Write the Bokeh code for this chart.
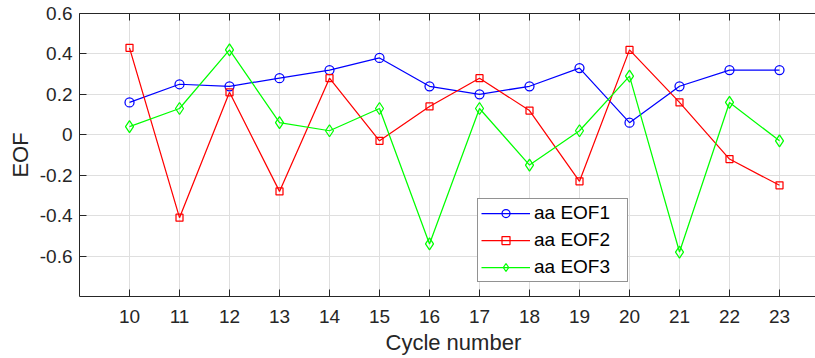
from bokeh.plotting import figure
from bokeh.models import (FixedTicker, LinearAxis, Legend, LegendItem, Title,
                          CustomJSTickFormatter, Range1d)
from bokeh.embed import file_html
from bokeh.resources import INLINE

# ---- data ----
cycles = [10, 11, 12, 13, 14, 15, 16, 17, 18, 19, 20, 21, 22, 23]
eof1 = [0.16, 0.25, 0.24, 0.28, 0.32, 0.38, 0.24, 0.20, 0.24, 0.33, 0.06, 0.24, 0.32, 0.32]
eof2 = [0.43, -0.41, 0.21, -0.28, 0.28, -0.03, 0.14, 0.28, 0.12, -0.23, 0.42, 0.16, -0.12, -0.25]
eof3 = [0.04, 0.13, 0.42, 0.06, 0.02, 0.13, -0.54, 0.13, -0.15, 0.02, 0.29, -0.58, 0.16, -0.03]
series_names = ["aa EOF1", "aa EOF2", "aa EOF3"]
y_ticks = [-0.6, -0.4, -0.2, 0.0, 0.2, 0.4, 0.6]
x_label = "Cycle number"
y_label = "EOF"

FONT = "Liberation Sans"
AX = "#262626"
GRID = "#dfdfdf"

p = figure(width=815, height=358, output_backend="svg", toolbar_location=None,
           x_range=Range1d(9, 23.72), y_range=Range1d(-0.8, 0.6),
           min_border_left=79, min_border_right=0, min_border_top=13,
           min_border_bottom=62)
p.outline_line_color = None
p.background_fill_color = "white"
p.border_fill_color = "white"

xt = FixedTicker(ticks=cycles)
yt = FixedTicker(ticks=y_ticks)

# bottom axis
xa = p.xaxis[0]
xa.ticker = xt
xa.major_tick_in = 7
xa.major_tick_out = 0
xa.minor_tick_line_color = None
xa.axis_line_color = AX
xa.major_tick_line_color = AX
xa.major_label_text_font = FONT
xa.major_label_text_font_size = "19px"
xa.major_label_text_color = AX
xa.major_label_standoff = 13

# left axis
ya = p.yaxis[0]
ya.ticker = yt
ya.formatter = CustomJSTickFormatter(code="return Math.abs(tick) < 1e-9 ? '0' : tick.toFixed(1);")
ya.major_tick_in = 7
ya.major_tick_out = 0
ya.minor_tick_line_color = None
ya.axis_line_color = AX
ya.major_tick_line_color = AX
ya.major_label_text_font = FONT
ya.major_label_text_font_size = "19px"
ya.major_label_text_color = AX
ya.major_label_standoff = 7
ya.axis_label = y_label
ya.axis_label_text_font = FONT
ya.axis_label_text_font_size = "22px"
ya.axis_label_text_font_style = "normal"
ya.axis_label_text_color = AX
ya.axis_label_standoff = 4

# top axis (box line and inward ticks, no labels)
ta = LinearAxis(ticker=xt, major_tick_in=7, major_tick_out=0,
                minor_tick_line_color=None, axis_line_color=AX,
                major_tick_line_color=AX, major_label_text_font_size="1px",
                major_label_text_color=None, major_label_standoff=0)
p.add_layout(ta, "above")

p.xgrid.ticker = xt
p.ygrid.ticker = yt
p.xgrid.grid_line_color = GRID
p.ygrid.grid_line_color = GRID

colors = ["#0000ff", "#ff0000", "#00ff00"]
markers = ["circle", "square", "diamond"]
sizes = [9, 7, 12]
items = []
for vals, name, c, m, s in zip([eof1, eof2, eof3], series_names, colors, markers, sizes):
    l = p.line(cycles, vals, line_color=c, line_width=1.25)
    sc = p.scatter(cycles, vals, marker=m, size=s, line_color=c, fill_color=None, line_width=1.25)
    items.append(LegendItem(label=name, renderers=[l, sc]))

legend = Legend(items=items, location=(398, 14), orientation="vertical",
                label_text_font=FONT, label_text_font_size="19px",
                label_text_color="#000000", glyph_width=49, glyph_height=20,
                label_height=20, label_width=90, spacing=5, padding=3, margin=0,
                label_standoff=4, border_line_color=AX, border_line_width=1,
                background_fill_color="white", background_fill_alpha=1)
p.add_layout(legend, "center")

xl = Title(text=x_label, align="left", offset=306, text_font=FONT,
           text_font_size="22px", text_font_style="normal", text_color=AX,
           standoff=4)
p.add_layout(xl, "below")

open("out.html", "w").write(file_html(p, INLINE))
